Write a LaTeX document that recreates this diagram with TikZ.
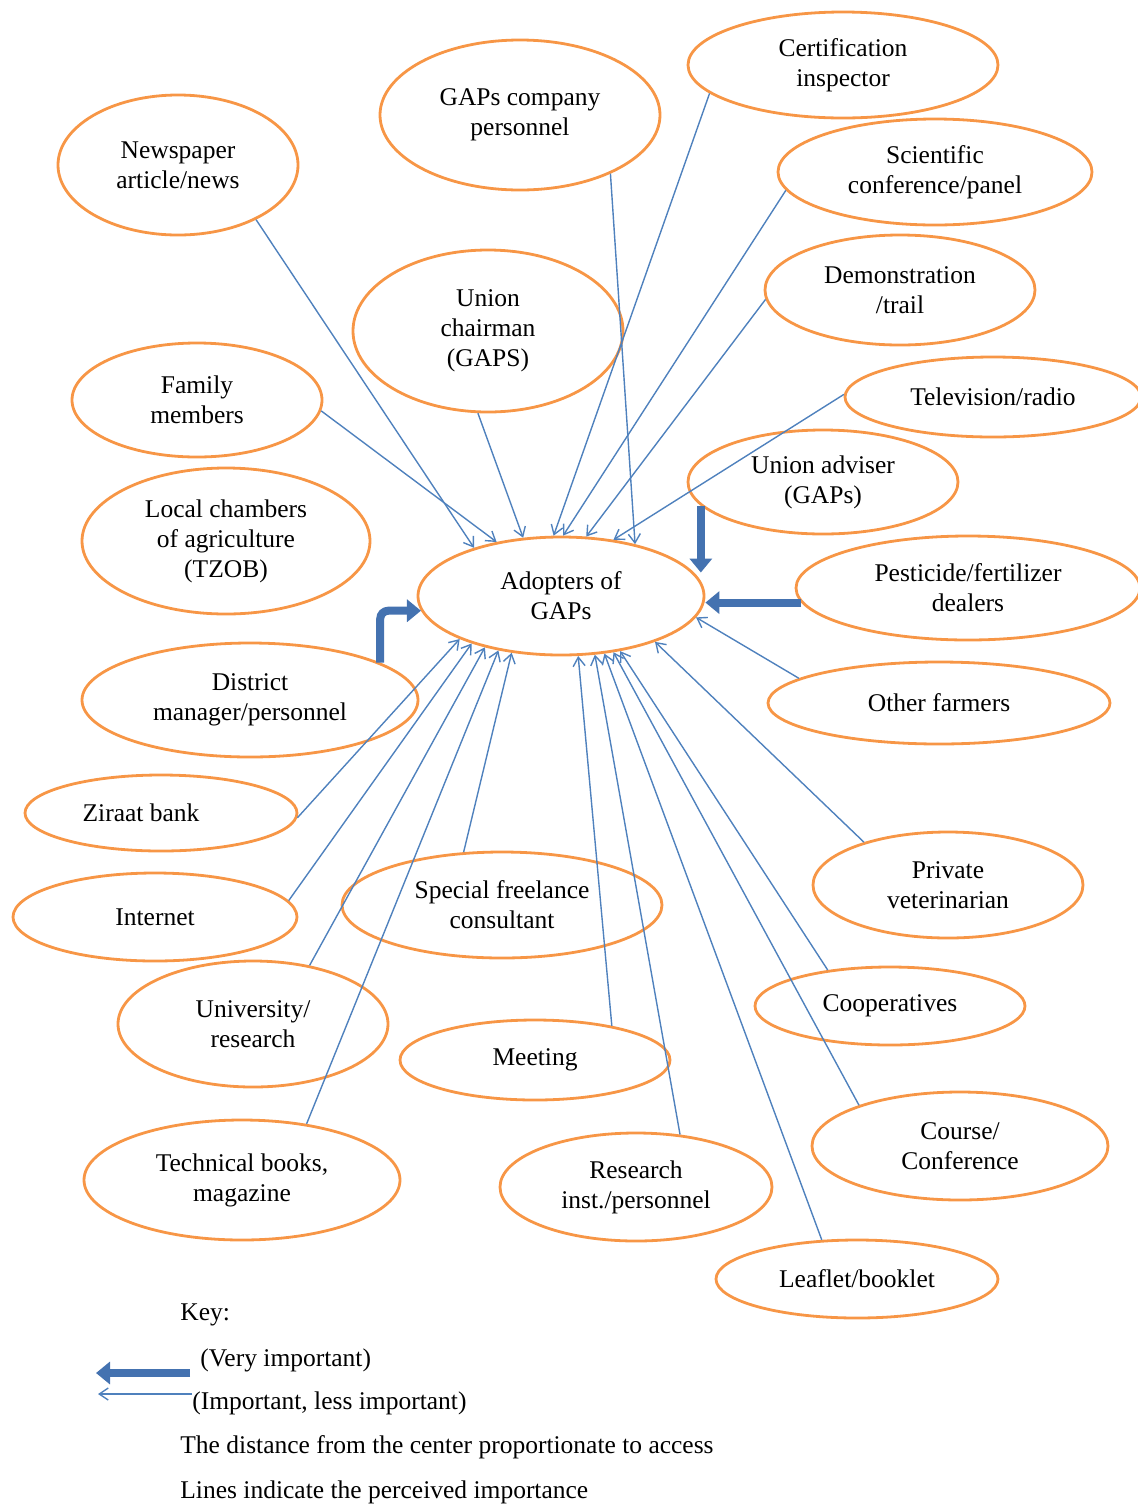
\documentclass[tikz,border=0pt]{standalone}
\usepackage{fontspec}
\setmainfont{Liberation Serif}
\usetikzlibrary{shapes.geometric,arrows.meta}
\definecolor{eorange}{HTML}{F79646}
\definecolor{lblue}{HTML}{4F81BD}
\definecolor{dblue}{HTML}{4472B0}
\definecolor{dbord}{HTML}{385D8A}
\begin{document}
\begin{tikzpicture}[x=0.5pt,y=-0.5pt,
  src/.style={ellipse, draw=eorange, line width=1.4pt, inner sep=0pt, align=center,
    font=\fontsize{12.75}{15}\selectfont},
  thinarrow/.style={draw=lblue, line width=0.7pt, -{Straight Barb[length=4.5pt,width=6pt]}},
  bigarrow/.style={draw=dblue, line width=4pt, -{Triangle[length=7pt,width=11pt]}},
  keytext/.style={anchor=west, inner sep=0pt, font=\fontsize{12.75}{15}\selectfont}]
\useasboundingbox (0,0) rectangle (1137,1506);
% sources
\node[src, minimum width=155pt, minimum height=53pt] (cert) at (843,65) {Certification\\inspector};
\node[src, minimum width=140pt, minimum height=75pt] (gapc) at (520,115) {GAPs company\\personnel};
\node[src, minimum width=120pt, minimum height=70pt] (news) at (178,165) {Newspaper\\article/news};
\node[src, minimum width=157pt, minimum height=53pt] (sci) at (935,172) {Scientific\\conference/panel};
\node[src, minimum width=135pt, minimum height=81pt] (uch) at (488,331) {Union\\chairman\\(GAPS)};
\node[src, minimum width=135pt, minimum height=55pt] (demo) at (900,290) {Demonstration\\/trail};
\node[src, minimum width=125pt, minimum height=57pt] (fam) at (197,400) {Family\\members};
\node[src, minimum width=148pt, minimum height=40pt] (tv) at (993,397) {Television/radio};
\node[src, minimum width=135pt, minimum height=52pt] (uadv) at (823,482) {Union adviser\\(GAPs)};
\node[src, minimum width=144pt, minimum height=73pt] (lcham) at (226,541) {Local chambers\\of agriculture\\(TZOB)};
\node[src, minimum width=143pt, minimum height=59pt] (adopt) at (561,596) {Adopters of\\GAPs};
\node[src, minimum width=172pt, minimum height=52pt] (pest) at (968,588) {Pesticide/fertilizer\\dealers};
\node[src, minimum width=168pt, minimum height=57pt] (dist) at (250,700) {District\\manager/personnel};
\node[src, minimum width=171pt, minimum height=41pt] (other) at (939,703) {Other farmers};
\node[src, minimum width=136pt, minimum height=38pt] (ziraat) at (161,813) {\kern-20pt Ziraat bank};
\node[src, minimum width=135pt, minimum height=53pt] (vet) at (948,885) {Private\\veterinarian};
\node[src, minimum width=142pt, minimum height=44pt] (inet) at (155,917) {Internet};
\node[src, minimum width=160pt, minimum height=53pt] (spec) at (502,905) {Special freelance\\consultant};
\node[src, minimum width=135pt, minimum height=63pt] (univ) at (253,1024) {University/\\research};
\node[src, minimum width=135pt, minimum height=39pt] (coop) at (890,1006) {Cooperatives};
\node[src, minimum width=135pt, minimum height=40pt] (meet) at (535,1060) {Meeting};
\node[src, minimum width=148pt, minimum height=54pt] (course) at (960,1146) {Course/\\Conference};
\node[src, minimum width=158pt, minimum height=60pt] (tech) at (242,1180) {Technical books,\\magazine};
\node[src, minimum width=136pt, minimum height=54pt] (resi) at (636,1187) {Research\\inst./personnel};
\node[src, minimum width=141pt, minimum height=39pt] (leaf) at (857,1279) {Leaflet/booklet};
% thin connectors
\draw[thinarrow] (news.-35) -- (adopt.151);
\draw[thinarrow] (fam.-5) -- (adopt.140);
\draw[thinarrow] (uch.-97) -- (adopt.123);
\draw[thinarrow] (cert.192) -- (adopt.97);
\draw[thinarrow] (sci.187) -- (adopt.88);
\draw[thinarrow] (demo.184) -- (adopt.67);
\draw[thinarrow] (tv.179) -- (adopt.47);
\draw[thinarrow] (gapc.-33) -- (adopt.35);
\draw[thinarrow] (other.170) -- (adopt.-9);
\draw[thinarrow] (vet.153) -- (adopt.-26);
\draw[thinarrow] (coop.150) -- (adopt.-43);
\draw[thinarrow] (course.158) -- (adopt.-47);
\draw[thinarrow] (leaf.132) -- (adopt.-53);
\draw[thinarrow] (resi.50) -- (adopt.-60);
\draw[thinarrow] (meet.24) -- (adopt.-74);
\draw[thinarrow] (spec.126) -- (adopt.-131);
\draw[thinarrow] (tech.41) -- (adopt.-139);
\draw[thinarrow] (univ.46) -- (adopt.-146);
\draw[thinarrow] (inet.7) -- (adopt.-152);
\draw[thinarrow] (ziraat.-2) -- (adopt.-157);
% thick connectors
\draw[bigarrow] (uadv.191) -- (uadv.191 |- adopt.10);
\draw[bigarrow] (pest.185) -- (pest.185 -| adopt.east);
\draw[bigarrow, rounded corners=4pt] (dist.16) |- (adopt.186);
% key
\node[keytext] (key) at (180,1315) {Key:};
\node[keytext] (k1) at (200,1360) {(Very important)};
\node[keytext] (k2) at (192,1403) {(Important, less important)};
\node[keytext] (k3) at (180,1447) {The distance from the center proportionate to access};
\node[keytext] (k4) at (180,1492) {Lines indicate the perceived importance};
\coordinate (a1s) at (190,1373);
\coordinate (a1e) at (96,1373);
\coordinate (a2s) at (192,1394);
\coordinate (a2e) at (98,1394);
\draw[bigarrow] (a1s) -- (a1e);
\draw[thinarrow] (a2s) -- (a2e);
\end{tikzpicture}
\end{document}
